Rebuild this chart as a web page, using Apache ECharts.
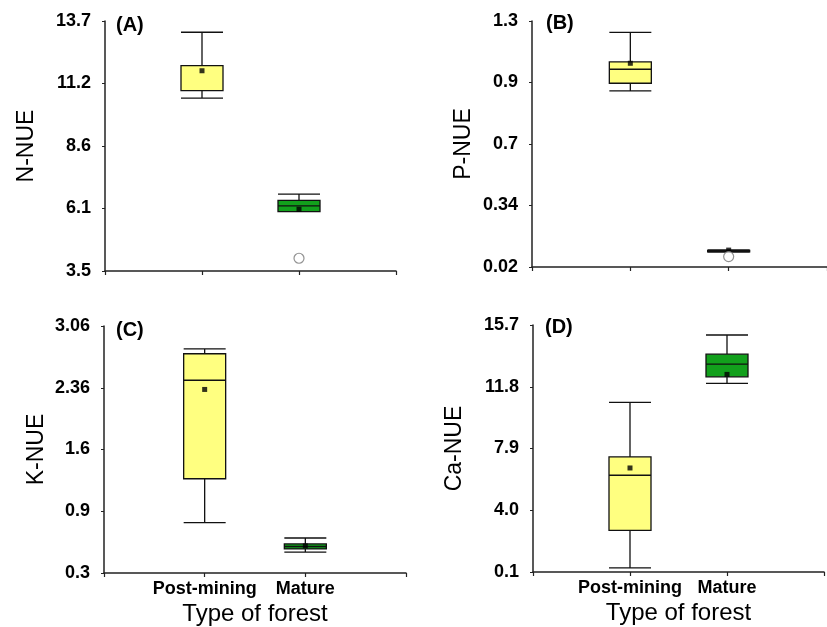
<!DOCTYPE html>
<html>
<head>
<meta charset="utf-8">
<script src="https://cdn.jsdelivr.net/npm/echarts@6/dist/echarts.min.js"></script>
<style>
  html, body { margin: 0; padding: 0; background: #fff; }
  #chart { width: 827px; height: 627px; }
</style>
</head>
<body>
<div id="chart"></div>
<script>
// categories on the x axis (value positions 1 and 2)
const categories = ["Post-mining", "Mature"];
const panelNames = ["(A)", "(B)", "(C)", "(D)"];
const yNames = ["N-NUE", "P-NUE", "K-NUE", "Ca-NUE"];

// y tick labels, bottom to top (as printed in the figure)
const ticksA = ["3.5", "6.1", "8.6", "11.2", "13.7"];
const ticksB = ["0.02", "0.34", "0.7", "0.9", "1.3"];
const ticksC = ["0.3", "0.9", "1.6", "2.36", "3.06"];
const ticksD = ["0.1", "4.0", "7.9", "11.8", "15.7"];

// boxes: [x, lower whisker, Q1, median, Q3, upper whisker]
const boxA = [[1, 10.55, 10.86, 11.88, 11.88, 13.24], [2, 5.92, 5.92, 6.16, 6.38, 6.64]];
const boxB = [[1, 0.936, 0.976, 1.049, 1.087, 1.241], [2, 0.097, 0.099, 0.103, 0.106, 0.109]];
const boxC = [[1, 0.862, 1.353, 2.454, 2.75, 2.805], [2, 0.533, 0.569, 0.596, 0.625, 0.691]];
const boxD = [[1, 0.36, 2.73, 6.21, 7.37, 10.81], [2, 12.01, 12.43, 13.23, 13.86, 15.07]];

// means [x, value]
const meanA = [[1, 11.67], [2, 6.02]];
const meanB = [[1, 1.08], [2, 0.108]];
const meanC = [[1, 2.351], [2, 0.603]];
const meanD = [[1, 6.67], [2, 12.58]];

// outliers [x, value]
const outA = [[2, 4.02]];
const outB = [[2, 0.074]];
const outC = [];
const outD = [];

const font = "Liberation Sans, Arial, sans-serif";
const boxColors = ["#ffff80", "#12a01c"];

const panels = [
  { ticks: ticksA, box: boxA, mean: meanA, out: outA, min: 3.5, max: 13.7, step: 2.55,
    grid: { left: 105, top: 21, width: 291, height: 250 }, nameGap: 67, title: [116, 15], bottom: false },
  { ticks: ticksB, box: boxB, mean: meanB, out: outB, min: 0.02, max: 1.3, step: 0.32,
    grid: { left: 532, top: 21, width: 302, height: 246 }, nameGap: 57, title: [546, 13], bottom: false },
  { ticks: ticksC, box: boxC, mean: meanC, out: outC, min: 0.3, max: 3.06, step: 0.69,
    grid: { left: 104, top: 326, width: 302, height: 249 }, nameGap: 56, title: [116, 320], bottom: true },
  { ticks: ticksD, box: boxD, mean: meanD, out: outD, min: 0.1, max: 15.7, step: 3.9,
    grid: { left: 533, top: 325, width: 293, height: 247 }, nameGap: 67, title: [545, 317], bottom: true }
];

const chart = echarts.init(document.getElementById("chart"));

const option = {
  animation: false,
  backgroundColor: "#fff",
  textStyle: { fontFamily: font },
  title: panels.map((p, i) => ({
    text: panelNames[i], left: p.title[0], top: p.title[1], padding: 0,
    textStyle: { fontFamily: font, fontSize: 20, fontWeight: "bold", color: "#000" }
  })),
  grid: panels.map((p) => p.grid),
  xAxis: panels.map((p, i) => ({
    type: "value", gridIndex: i, min: 0, max: 3, interval: 1,
    name: p.bottom ? "Type of forest" : "",
    nameLocation: "middle", nameGap: 29,
    nameTextStyle: { fontFamily: font, fontSize: 24, color: "#000" },
    axisLine: { show: true, lineStyle: { color: "#222", width: 1.5 } },
    axisTick: { show: true, length: 4, lineStyle: { color: "#222", width: 1.2 } },
    axisLabel: {
      show: p.bottom, margin: 7, fontFamily: font, fontSize: 18, fontWeight: "bold", color: "#000",
      formatter: (v) => categories[v - 1] || ""
    },
    splitLine: { show: false }
  })),
  yAxis: panels.map((p, i) => ({
    type: "value", gridIndex: i, min: p.min, max: p.max, interval: p.step,
    name: yNames[i], nameLocation: "middle", nameGap: p.nameGap, nameRotate: 90,
    nameTextStyle: { fontFamily: font, fontSize: 23, color: "#000" },
    axisLine: { show: true, lineStyle: { color: "#222", width: 1.5 } },
    axisTick: { show: true, length: 3, lineStyle: { color: "#222" } },
    axisLabel: {
      margin: 14, fontFamily: font, fontSize: 18, fontWeight: "bold", color: "#000",
      formatter: (v, idx) => p.ticks[idx] !== undefined ? p.ticks[idx] : ""
    },
    splitLine: { show: false }
  })),
  series: panels.flatMap((p, i) => [
    {
      type: "boxplot", xAxisIndex: i, yAxisIndex: i, boxWidth: [42, 42],
      itemStyle: { borderColor: "#111", borderWidth: 1.3 },
      data: p.box.map((d, k) => ({ value: d, itemStyle: { color: boxColors[k], borderColor: "#111" } }))
    },
    {
      type: "scatter", xAxisIndex: i, yAxisIndex: i, symbol: "rect", symbolSize: 5,
      itemStyle: { color: "#000" }, data: p.mean, z: 5
    },
    {
      type: "scatter", xAxisIndex: i, yAxisIndex: i, symbol: "circle", symbolSize: 10,
      itemStyle: { color: "#fff", borderColor: "#777", borderWidth: 1.2 }, data: p.out, z: 5
    }
  ])
};

chart.setOption(option);
</script>
</body>
</html>
